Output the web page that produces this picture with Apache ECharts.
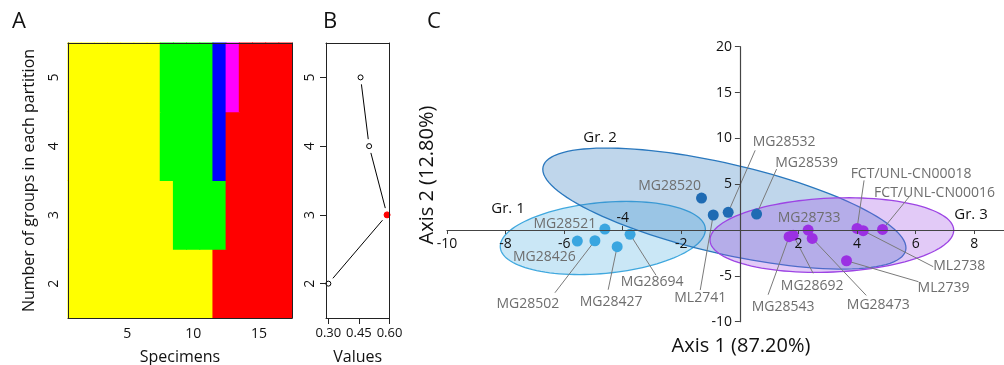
<!DOCTYPE html>
<html><head><meta charset="utf-8">
<script src="https://cdn.jsdelivr.net/npm/echarts@6/dist/echarts.min.js"></script>
<style>html,body{margin:0;padding:0;background:#fff}#c{width:1004px;height:365px}</style>
</head><body><div id="c"></div>
<script>
// ---------- Panel A : partitions ----------
const specimens = ['1','2','3','4','5','6','7','8','9','10','11','12','13','14','15','16','17'];
const partitionK = ['2','3','4','5'];
// group index per specimen (1 yellow, 2 green, 3 blue, 4 magenta, 5 red)
const groupsK2 = [1,1,1,1,1,1,1,1,1,1,1,5,5,5,5,5,5];
const groupsK3 = [1,1,1,1,1,1,1,1,2,2,2,2,5,5,5,5,5];
const groupsK4 = [1,1,1,1,1,1,1,2,2,2,2,3,5,5,5,5,5];
const groupsK5 = [1,1,1,1,1,1,1,2,2,2,2,3,4,5,5,5,5];
const specimenTickLabels = ['5','10','15'];

// ---------- Panel B : values ----------
const bK = [2,3,4,5];
const bValues = [0.30, 0.588, 0.50, 0.458];
const bBestK = 3;
const bXTicks = [0.30, 0.45, 0.60];
const bXLabelsAxis = [0.30, 0.60];
const bXLabelMid = 0.45;
const bYTicks = [2,3,4,5];

// ---------- Panel C : PCA ----------
const gr1Names = ['MG28521','MG28426','MG28502','MG28427','MG28694'];
const gr1X = [-4.61,-5.55,-4.95,-4.19,-3.75];
const gr1Y = [0.10,-1.20,-1.17,-1.82,-0.47];
const gr2Names = ['MG28520','ML2741','MG28532','MG28539'];
const gr2X = [-1.31,-0.91,-0.40,0.57];
const gr2Y = [3.49,1.64,1.93,1.74];
const gr3Names = ['MG28543','MG28692','MG28733','MG28473','ML2739','FCT/UNL-CN00018','ML2738','FCT/UNL-CN00016'];
const gr3X = [1.68,1.82,2.33,2.47,3.64,4.00,4.21,4.87];
const gr3Y = [-0.73,-0.58,0.00,-0.91,-3.35,0.18,-0.07,0.07];
const groupNames = ['Gr. 1','Gr. 2','Gr. 3'];
// ellipses: centre, semi-axis vectors (data units)
const ellipseCenters = [[-4.68,-0.87],[-0.53,2.34],[3.14,-0.55]];
const ellipseMajor = [[3.50,1.04],[6.19,-4.56],[4.16,0.58]];
const ellipseMinor = [[0.11,-3.85],[-0.345,-4.78],[0.055,-4.03]];
const cXMin = -10, cXMax = 9, cYMin = -10, cYMax = 20;
const cXTicks = [-10,-8,-6,-2,2,4,6,8];
const cXTicksAbove = [-4];
const cYTicks = [-10,-5,5,10,15,20];

// ---------- styles ----------
const FONT = '"Open Sans", "Noto Sans", sans-serif';
const groupColors = ['#FFFF00','#00FF00','#0000FF','#FF00FF','#FF0000'];
const ptColors = ['#3AA6E0','#1F6BB3','#9B30E3'];
const ellFill = ['rgba(64,168,222,0.28)','rgba(42,120,190,0.30)','rgba(160,80,230,0.30)'];
const ellStroke = ['#40A8DE','#2A78BE','#9D44E4'];
const labelColor = '#6e6e6e';
// label centre offset and leader-line end offset, in px from the point
const placement = {
  'MG28521': {label:[-40,-5]},
  'MG28426': {label:[-33,16]},
  'MG28502': {label:[-67,63], line:[-40,52]},
  'MG28427': {label:[-6,55], line:[-9,43]},
  'MG28694': {label:[22,48], line:[26,41]},
  'ML2741': {label:[-13,83], line:[-13,75]},
  'MG28520': {label:[-32,-12]},
  'MG28532': {label:[56,-70], line:[27,-62]},
  'MG28539': {label:[50,-51], line:[20,-45]},
  'MG28733': {label:[1,-12]},
  'MG28543': {label:[-6,70], line:[-21,58]},
  'MG28692': {label:[19,51], line:[20,38]},
  'MG28473': {label:[66,67], line:[54,57]},
  'ML2739': {label:[97,27], line:[72,21]},
  'ML2738': {label:[96,35], line:[70,36]},
  'FCT/UNL-CN00018': {label:[54,-54], line:[7,-48]},
  'FCT/UNL-CN00016': {label:[52,-36], line:[27,-33]}
};

const heatData = [];
[groupsK2, groupsK3, groupsK4, groupsK5].forEach((row, r) => row.forEach((g, s) => heatData.push([s, r, g])));

function scatterData(names, xs, ys) {
  return names.map((n, i) => ({name: n, value: [xs[i], ys[i]], label: {offset: placement[n].label}}));
}
const allNames = gr1Names.concat(gr2Names, gr3Names);
const allX = gr1X.concat(gr2X, gr3X);
const allY = gr1Y.concat(gr2Y, gr3Y);
const leaderIdx = allNames.map((n, i) => i).filter(i => placement[allNames[i]].line);
const leaderData = leaderIdx.map(i => ({name: allNames[i], value: [allX[i], allY[i]]}));

const axisTextA = {color: '#111', fontSize: 14, fontFamily: FONT};
const boxLine = {show: true, onZero: false, lineStyle: {color: '#222', width: 1}};
const cLine = {show: true, onZero: false, lineStyle: {color: '#444', width: 1.2}};
const hidden = {show: false};

const A = {left: 68, top: 43, width: 224, height: 275};
const B = {left: 326, top: 43, width: 63.5, height: 275};
const bXMin = 0.2885, bXMax = 0.6, bYMin = 1.5, bYMax = 5.5;
const bLabelMargin = 9, bLabelSize = 13;
// a one-band grid centred on the middle B tick, for its label
const bMidPx = B.left + B.width * (bXLabelMid - bXMin) / (bXMax - bXMin);
const bBand = 30;
// panel C geometry
const C = {left: 447, top: 46.7, width: 556.5, height: 275};
const zeroY = C.top + C.height * cYMax / (cYMax - cYMin);
const zeroX = C.left + C.width * (0 - cXMin) / (cXMax - cXMin);
const nb = {outerBoundsMode: 'none'};

const option = {
  animation: false,
  backgroundColor: '#fff',
  grid: [
    Object.assign({}, A, nb),                                                     // 0 A
    Object.assign({}, B, nb),                                                     // 1 B
    Object.assign({}, C, nb),                                                     // 2 C data
    Object.assign({left: C.left, top: C.top, width: C.width, height: zeroY - C.top}, nb),            // 3 C x axis
    Object.assign({left: C.left, top: zeroY, width: C.width, height: C.top + C.height - zeroY}, nb), // 4 C x labels above
    Object.assign({left: C.left, top: C.top, width: zeroX - C.left, height: C.height}, nb),          // 5 C y axis
    Object.assign({left: bMidPx - bBand / 2, top: B.top, width: bBand, height: B.height}, nb)        // 6 B middle label
  ],
  xAxis: [
    { // 0 A bottom
      gridIndex: 0, type: 'category', data: specimens, position: 'bottom', z: 10,
      axisLine: boxLine,
      axisTick: {alignWithLabel: true, length: 6, lineStyle: {color: '#222'},
        interval: (i, v) => specimenTickLabels.indexOf(v) >= 0},
      axisLabel: Object.assign({margin: 9, interval: (i, v) => specimenTickLabels.indexOf(v) >= 0}, axisTextA),
      splitLine: hidden,
      name: 'Specimens', nameLocation: 'middle', nameGap: 31,
      nameTextStyle: {fontSize: 16, color: '#111', fontFamily: FONT}
    },
    { // 1 B
      gridIndex: 1, type: 'value', min: bXMin, max: bXMax, position: 'bottom', z: 10,
      axisLine: boxLine,
      axisTick: {show: true, length: 6, customValues: bXTicks, lineStyle: {color: '#222'}},
      axisLabel: {margin: bLabelMargin, customValues: bXLabelsAxis, formatter: v => v.toFixed(2), fontSize: bLabelSize,
        color: '#111', fontFamily: FONT},
      splitLine: hidden,
      name: 'Values', nameLocation: 'middle', nameGap: 31,
      nameTextStyle: {fontSize: 16, color: '#111', fontFamily: FONT}
    },
    { // 2 C data axis (invisible)
      gridIndex: 2, type: 'value', min: cXMin, max: cXMax, show: false,
      axisLine: {show: false, onZero: false}, splitLine: hidden
    },
    { // 3 C visible x axis at y = 0
      gridIndex: 3, type: 'value', min: cXMin, max: cXMax, position: 'bottom', z: 10,
      axisLine: cLine,
      axisTick: {show: true, length: 4, customValues: cXTicks, lineStyle: {color: '#444'}},
      axisLabel: {margin: 7, customValues: cXTicks, color: '#111', fontSize: 14, fontFamily: FONT},
      splitLine: hidden
    },
    { // 4 C labels above the axis
      gridIndex: 4, type: 'value', min: cXMin, max: cXMax, position: 'top', z: 10,
      axisLine: {show: false, onZero: false},
      axisTick: {show: true, length: 4, customValues: cXTicksAbove, lineStyle: {color: '#444'}},
      axisLabel: {margin: 5, customValues: cXTicksAbove, color: '#111', fontSize: 14, fontFamily: FONT},
      splitLine: hidden
    },
    { // 5 A top border
      gridIndex: 0, type: 'category', data: specimens, position: 'top', z: 10,
      axisLine: boxLine, axisTick: hidden, axisLabel: hidden, splitLine: hidden
    },
    { // 6 B top border
      gridIndex: 1, type: 'value', min: bXMin, max: bXMax, position: 'top', z: 10,
      axisLine: boxLine, axisTick: hidden, axisLabel: hidden, splitLine: hidden
    },
    { // 7 grid 5 dummy x
      gridIndex: 5, type: 'value', min: cXMin, max: 0, show: false, axisLine: {show: false, onZero: false}, splitLine: hidden
    },
    { // 8 B middle tick label
      gridIndex: 6, type: 'category', data: [bXLabelMid.toFixed(2)], position: 'bottom', z: 10,
      axisLine: {show: false, onZero: false}, axisTick: hidden,
      axisLabel: {interval: 0, margin: bLabelMargin, fontSize: bLabelSize, color: '#111', fontFamily: FONT},
      splitLine: hidden
    }
  ],
  yAxis: [
    { // 0 A
      gridIndex: 0, type: 'category', data: partitionK, position: 'left', z: 10,
      axisLine: boxLine,
      axisTick: {alignWithLabel: true, length: 6, lineStyle: {color: '#222'}},
      axisLabel: Object.assign({margin: 7, rotate: 90}, axisTextA),
      splitLine: hidden,
      name: 'Number of groups in each partition', nameLocation: 'middle', nameGap: 31,
      nameTextStyle: {fontSize: 16, color: '#111', fontFamily: FONT}
    },
    { // 1 B
      gridIndex: 1, type: 'value', min: bYMin, max: bYMax, position: 'left', z: 10,
      axisLine: boxLine,
      axisTick: {show: true, length: 6, customValues: bYTicks, lineStyle: {color: '#222'}},
      axisLabel: Object.assign({margin: 9, rotate: 90, customValues: bYTicks}, axisTextA),
      splitLine: hidden
    },
    { // 2 C data axis (invisible)
      gridIndex: 2, type: 'value', min: cYMin, max: cYMax, show: false,
      axisLine: {show: false, onZero: false}, splitLine: hidden
    },
    { // 3 A right border
      gridIndex: 0, type: 'category', data: partitionK, position: 'right', z: 10,
      axisLine: boxLine, axisTick: hidden, axisLabel: hidden, splitLine: hidden
    },
    { // 4 B right border
      gridIndex: 1, type: 'value', min: bYMin, max: bYMax, position: 'right', z: 10,
      axisLine: boxLine, axisTick: hidden, axisLabel: hidden, splitLine: hidden
    },
    { // 5 grid 3 dummy y
      gridIndex: 3, type: 'value', min: 0, max: cYMax, show: false, axisLine: {show: false, onZero: false}, splitLine: hidden
    },
    { // 6 grid 4 dummy y
      gridIndex: 4, type: 'value', min: cYMin, max: 0, show: false, axisLine: {show: false, onZero: false}, splitLine: hidden
    },
    { // 7 C visible y axis at x = 0
      gridIndex: 5, type: 'value', min: cYMin, max: cYMax, position: 'right', z: 10,
      axisLine: cLine,
      axisTick: {show: true, inside: true, length: 5, customValues: cYTicks, lineStyle: {color: '#444'}},
      axisLabel: {inside: true, margin: 8, customValues: cYTicks, color: '#111', fontSize: 14, fontFamily: FONT},
      splitLine: hidden
    },
    { // 8 grid 6 dummy y
      gridIndex: 6, type: 'value', min: bYMin, max: bYMax, show: false, axisLine: {show: false, onZero: false}, splitLine: hidden
    }
  ],
  series: [
    { // A partitions
      type: 'custom', xAxisIndex: 0, yAxisIndex: 0, data: heatData, encode: {x: 0, y: 1},
      renderItem: function (params, api) {
        const p = api.coord([api.value(0), api.value(1)]);
        const s = api.size([1, 1]);
        return {type: 'rect',
          shape: {x: p[0] - s[0] / 2 - 0.5, y: p[1] - s[1] / 2 - 0.5, width: s[0] + 1, height: s[1] + 1},
          style: {fill: groupColors[api.value(2) - 1]}};
      }
    },
    { // B connecting segments, with gaps at the points (R type "b")
      type: 'custom', xAxisIndex: 1, yAxisIndex: 1, z: 2,
      data: bValues.map((v, i) => [v, bK[i]]), encode: {x: 0, y: 1},
      renderItem: function (params, api) {
        const i = params.dataIndex;
        if (i === 0) return null;
        const p0 = api.coord([bValues[i - 1], bK[i - 1]]);
        const p1 = api.coord([bValues[i], bK[i]]);
        const dx = p1[0] - p0[0], dy = p1[1] - p0[1];
        const len = Math.sqrt(dx * dx + dy * dy), g = 7;
        const ux = dx / len, uy = dy / len;
        return {type: 'line',
          shape: {x1: p0[0] + ux * g, y1: p0[1] + uy * g, x2: p1[0] - ux * g, y2: p1[1] - uy * g},
          style: {stroke: '#000', lineWidth: 1}};
      }
    },
    { // B points
      type: 'scatter', xAxisIndex: 1, yAxisIndex: 1, z: 3,
      data: bValues.map((v, i) => ({
        value: [v, bK[i]],
        symbolSize: bK[i] === bBestK ? 6 : 5,
        itemStyle: bK[i] === bBestK ? {color: '#FF0000', borderColor: '#FF0000'} : undefined
      })),
      symbol: 'circle', symbolSize: 5,
      itemStyle: {color: '#fff', borderColor: '#000', borderWidth: 1, opacity: 1},
      emphasis: {disabled: true}
    },
    { // C ellipses
      type: 'custom', xAxisIndex: 2, yAxisIndex: 2, z: 1,
      data: ellipseCenters.map(c => c.slice()),
      encode: {x: 0, y: 1},
      renderItem: function (params, api) {
        const i = params.dataIndex;
        const c = ellipseCenters[i], a = ellipseMajor[i], b = ellipseMinor[i];
        const pts = [];
        const N = 120;
        for (let k = 0; k < N; k++) {
          const t = k / N * 2 * Math.PI;
          pts.push(api.coord([c[0] + a[0] * Math.cos(t) + b[0] * Math.sin(t),
                              c[1] + a[1] * Math.cos(t) + b[1] * Math.sin(t)]));
        }
        return {type: 'polygon', shape: {points: pts},
          style: {fill: ellFill[i], stroke: ellStroke[i], lineWidth: 1.3}};
      }
    },
    { // C leader lines
      type: 'custom', xAxisIndex: 2, yAxisIndex: 2, z: 3,
      data: leaderData,
      encode: {x: 0, y: 1},
      renderItem: function (params, api) {
        const p = api.coord([api.value(0), api.value(1)]);
        const off = placement[leaderData[params.dataIndex].name].line;
        return {type: 'line', shape: {x1: p[0], y1: p[1], x2: p[0] + off[0], y2: p[1] + off[1]},
          style: {stroke: '#7a7a7a', lineWidth: 1}};
      }
    }
  ].concat([[gr1Names, gr1X, gr1Y], [gr2Names, gr2X, gr2Y], [gr3Names, gr3X, gr3Y]].map((g, gi) => ({
    type: 'scatter', name: groupNames[gi], xAxisIndex: 2, yAxisIndex: 2, z: 4,
    data: scatterData(g[0], g[1], g[2]),
    symbol: 'circle', symbolSize: 11,
    itemStyle: {color: ptColors[gi], opacity: 1},
    label: {show: true, position: 'inside', formatter: '{b}', color: labelColor, fontSize: 14, fontFamily: FONT},
    emphasis: {disabled: true}
  }))),
  graphic: [
    {type: 'text', x: 19, y: 22, style: {text: 'A', fontSize: 22, fontFamily: FONT, fill: '#111', align: 'center', verticalAlign: 'middle'}},
    {type: 'text', x: 330, y: 22, style: {text: 'B', fontSize: 22, fontFamily: FONT, fill: '#111', align: 'center', verticalAlign: 'middle'}},
    {type: 'text', x: 434, y: 22, style: {text: 'C', fontSize: 22, fontFamily: FONT, fill: '#111', align: 'center', verticalAlign: 'middle'}},
    {type: 'text', x: 741, y: 346, style: {text: 'Axis 1 (87.20%)', fontSize: 20, fontFamily: FONT, fill: '#111', align: 'center', verticalAlign: 'middle'}},
    {type: 'text', x: 427, y: 175, rotation: Math.PI / 2, style: {text: 'Axis 2 (12.80%)', fontSize: 20, fontFamily: FONT, fill: '#111', align: 'center', verticalAlign: 'middle'}},
    {type: 'text', x: 508, y: 209, z: 10, style: {text: groupNames[0], fontSize: 15, fontFamily: FONT, fill: '#111', align: 'center', verticalAlign: 'middle'}},
    {type: 'text', x: 600, y: 138, z: 10, style: {text: groupNames[1], fontSize: 15, fontFamily: FONT, fill: '#111', align: 'center', verticalAlign: 'middle'}},
    {type: 'text', x: 971, y: 215, z: 10, style: {text: groupNames[2], fontSize: 15, fontFamily: FONT, fill: '#111', align: 'center', verticalAlign: 'middle'}}
  ]
};
const chart = echarts.init(document.getElementById('c'));
chart.setOption(option);
</script>
</body></html>
